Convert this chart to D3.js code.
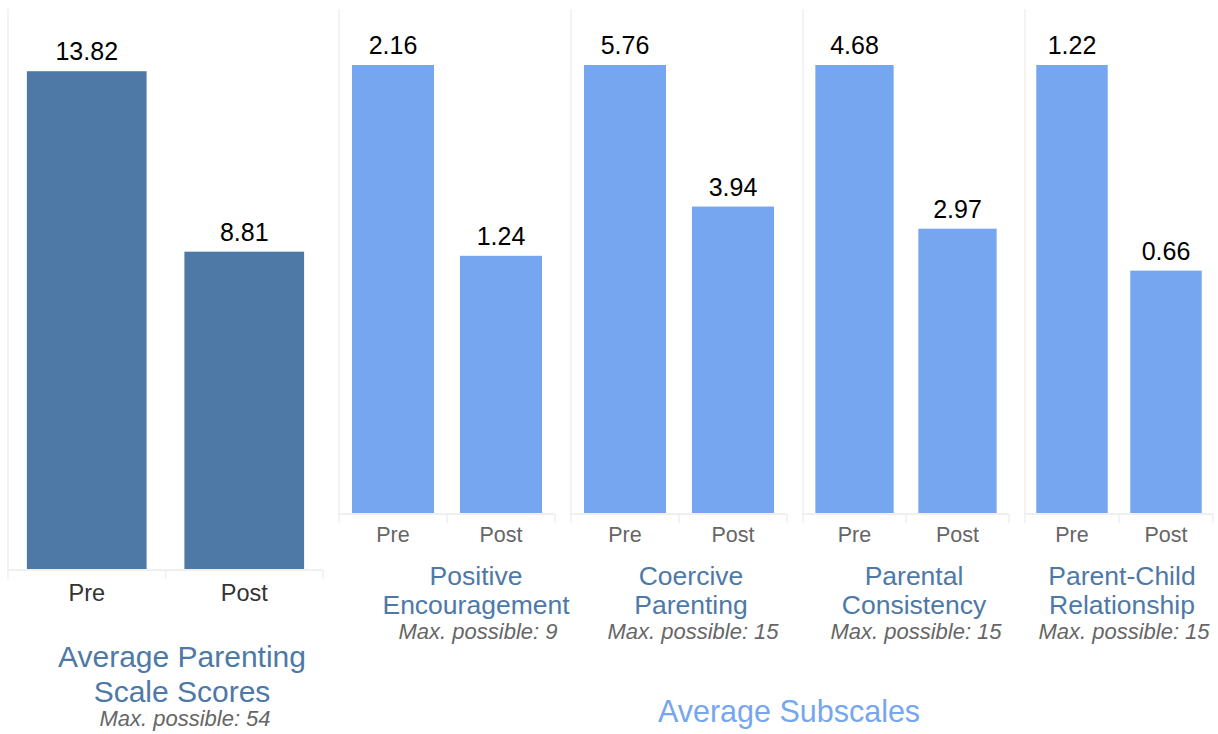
<!DOCTYPE html>
<html>
<head>
<meta charset="utf-8">
<script src="https://d3js.org/d3.v7.min.js"></script>
<style>
  body { margin: 0; background: #fff; }
  text { font-family: "Liberation Sans", Arial, sans-serif; }
</style>
</head>
<body>
<script>

// data
let periods = ["Pre", "Post"];
let overallValues = [13.82, 8.81];
let subscaleNames = [["Positive", "Encouragement"], ["Coercive", "Parenting"],
                     ["Parental", "Consistency"], ["Parent-Child", "Relationship"]];
let subscaleMax = [9, 15, 15, 15];
let subscaleValues = [[2.16, 1.24], [5.76, 3.94], [4.68, 2.97], [1.22, 0.66]];

// layout of the dashboard tiles
let overallPanel = {x0: 8, x1: 323, top: 9, base: 570, titleX: 182};
let subPanels = [
    {x0: 339, x1: 555, titleX: 476},
    {x0: 571, x1: 787, titleX: 691},
    {x0: 803, x1: 1009, titleX: 914},
    {x0: 1025, x1: 1213, titleX: 1122}
];
let subTop = 9, subBase = 514;

let darkBlue = "#4e79a7", lightBlue = "#75a6ef", gridColor = "#efefef";

let svg = d3.select("body").append("svg")
    .attr("width", 1218)
    .attr("height", 734);

function drawPanel(g, values, p, top, base, color, opts) {
    let x = d3.scaleBand()
        .domain(periods)
        .range([p.x0, p.x1]);

    let y = d3.scaleLinear()
        .domain([0, d3.max(values) * 1.125])
        .range([base - 1, top]);

    // left border line
    g.append("line")
        .attr("x1", p.x0).attr("x2", p.x0)
        .attr("y1", top).attr("y2", base)
        .attr("stroke", gridColor).attr("stroke-width", 1.5);

    let bw = x.bandwidth() * 0.76;
    g.selectAll("rect.bar")
        .data(values)
        .join("rect")
            .attr("class", "bar")
            .attr("x", (d, i) => x(periods[i]) + (x.bandwidth() - bw) / 2)
            .attr("y", d => y(d))
            .attr("width", bw)
            .attr("height", d => y(0) - y(d))
            .attr("fill", color);

    g.selectAll("text.val")
        .data(values)
        .join("text")
            .attr("class", "val")
            .attr("x", (d, i) => x(periods[i]) + x.bandwidth() / 2)
            .attr("y", d => y(d) - 11)
            .attr("text-anchor", "middle")
            .attr("font-size", 25)
            .attr("fill", "#000")
            .text(d => d.toFixed(2));

    // axis line and band-edge ticks
    g.append("line")
        .attr("x1", p.x0).attr("x2", p.x1)
        .attr("y1", base).attr("y2", base)
        .attr("stroke", gridColor).attr("stroke-width", 2);

    let edges = periods.map(d => x(d)).concat([p.x1]);
    g.selectAll("line.tick")
        .data(edges)
        .join("line")
            .attr("class", "tick")
            .attr("x1", d => d).attr("x2", d => d)
            .attr("y1", base).attr("y2", base + 9)
            .attr("stroke", gridColor).attr("stroke-width", 1.5);

    g.selectAll("text.cat")
        .data(periods)
        .join("text")
            .attr("class", "cat")
            .attr("x", d => x(d) + x.bandwidth() / 2)
            .attr("y", base + opts.labelOffset)
            .attr("text-anchor", "middle")
            .attr("font-size", opts.labelSize)
            .attr("fill", opts.labelColor)
            .text(d => d);
}

// overall scores
let g0 = svg.append("g");
drawPanel(g0, overallValues, overallPanel, overallPanel.top, overallPanel.base, darkBlue,
    {labelOffset: 31, labelSize: 23.5, labelColor: "#333"});

g0.append("text")
    .attr("x", overallPanel.titleX).attr("y", 667)
    .attr("text-anchor", "middle").attr("font-size", 30).attr("fill", darkBlue)
    .text("Average Parenting");
g0.append("text")
    .attr("x", overallPanel.titleX).attr("y", 702)
    .attr("text-anchor", "middle").attr("font-size", 30).attr("fill", darkBlue)
    .text("Scale Scores");
g0.append("text")
    .attr("x", overallPanel.titleX + 3).attr("y", 726)
    .attr("text-anchor", "middle").attr("font-size", 22).attr("font-style", "italic")
    .attr("fill", "#666")
    .text("Max. possible: 54");

// subscales
subPanels.forEach((p, i) => {
    let g = svg.append("g");
    drawPanel(g, subscaleValues[i], p, subTop, subBase, lightBlue,
        {labelOffset: 28, labelSize: 21.5, labelColor: "#666"});

    g.selectAll("text.title")
        .data(subscaleNames[i])
        .join("text")
            .attr("class", "title")
            .attr("x", p.titleX)
            .attr("y", (d, j) => 585 + j * 29)
            .attr("text-anchor", "middle")
            .attr("font-size", 26.5)
            .attr("fill", darkBlue)
            .text(d => d);

    g.append("text")
        .attr("x", p.titleX + 2).attr("y", 639)
        .attr("text-anchor", "middle").attr("font-size", 22).attr("font-style", "italic")
        .attr("fill", "#666")
        .text("Max. possible: " + subscaleMax[i]);
});

svg.append("text")
    .attr("x", 789).attr("y", 722)
    .attr("text-anchor", "middle").attr("font-size", 30.5).attr("fill", lightBlue)
    .text("Average Subscales");

</script>
</body>
</html>
